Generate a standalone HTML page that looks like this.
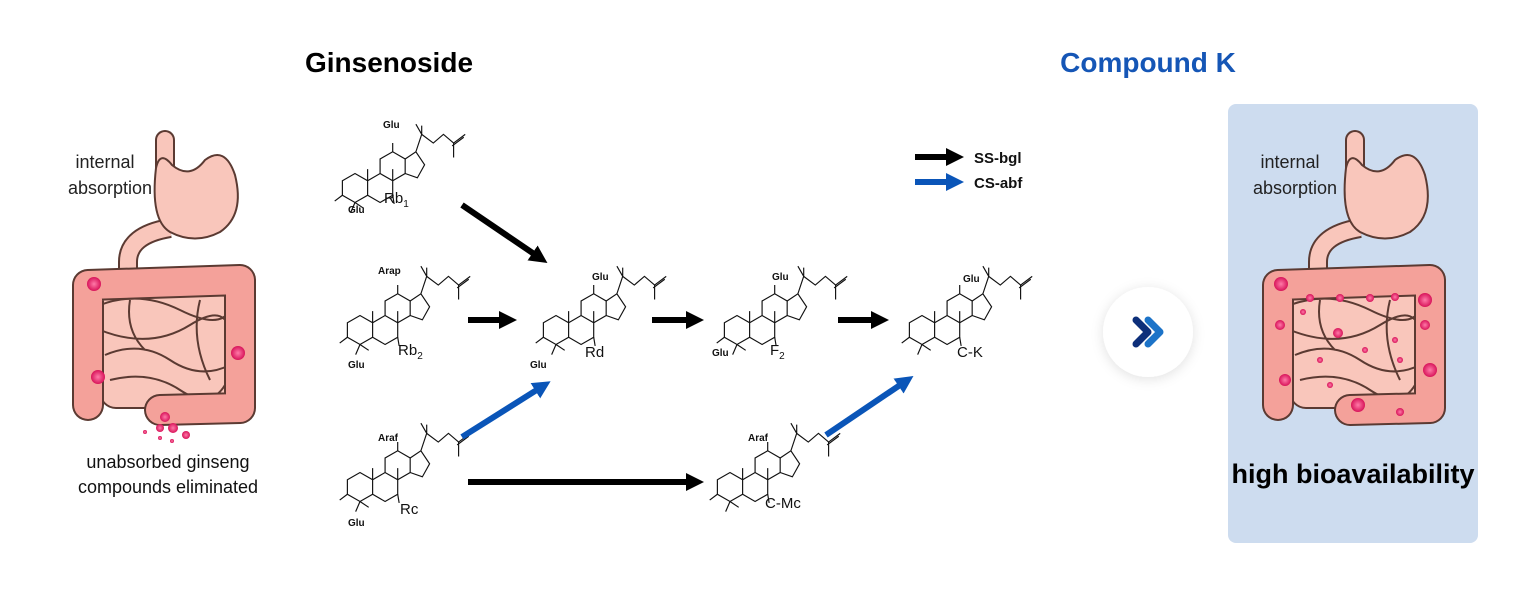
<!DOCTYPE html>
<html><head><style>
body{margin:0;background:#fff;}
svg{display:block;font-family:"Liberation Sans",sans-serif;}
</style></head><body>
<svg width="1520" height="590" viewBox="0 0 1520 590">
<defs>
<filter id="sh" x="-50%" y="-50%" width="200%" height="200%"><feDropShadow dx="0" dy="2" stdDeviation="6" flood-color="#000" flood-opacity="0.12"/></filter>
<marker id="hb" viewBox="0 0 10 10" refX="5" refY="5" markerWidth="3" markerHeight="3" orient="auto"><path d="M0,0 L10,5 L0,10z" fill="#000"/></marker>
<marker id="hl" viewBox="0 0 10 10" refX="5" refY="5" markerWidth="3" markerHeight="3" orient="auto"><path d="M0,0 L10,5 L0,10z" fill="#0a55b8"/></marker>
<g id="mol" fill="none" stroke="#111" stroke-width="0.8">
<path d="M-8.7,-5 L0,-10 L8.7,-5 L8.7,5 L0,10 L-8.7,5Z"/>
<path d="M8.7,-5 L17.3,-10 L26,-5 L26,5 L17.3,10 L8.7,5"/>
<path d="M17.3,-10 L17.3,-20 L26,-25 L34.6,-20 L34.6,-10 L26,-5"/>
<path d="M34.6,-20 L42,-25 L48,-16 L43,-7 L34.6,-10"/>
<path d="M42,-25 L46,-37 L54,-31 L61,-37 L68,-31 L76,-37 M67,-29 L75,-35 M68,-31 L68,-21"/>
<path d="M46,-37 L42,-44 M46,-37 L46,-43 M26,-25 L26,-31 M8.7,-5 L8.7,-13 M26,-5 L26,-13 M26,5 L27,11 M0,10 L-3,17 M0,10 L6,14 M-8.7,5 L-14,9"/>
</g>
<g id="gut">
<path d="M165,140 L165,172" fill="none" stroke="#5b3a32" stroke-width="20" stroke-linecap="round"/>
<path d="M165,140 L165,172" fill="none" stroke="#f9c6bb" stroke-width="16" stroke-linecap="round"/>
<path d="M170,228 Q128,235 128,262 L128,290" fill="none" stroke="#5b3a32" stroke-width="20"/>
<path d="M170,228 Q128,235 128,262 L128,292" fill="none" stroke="#f9c6bb" stroke-width="16"/>
<path d="M156,168 Q160,150 172,165 Q190,180 205,160 Q225,145 235,175 Q245,215 220,232 Q195,245 170,232 Q150,220 156,168Z" fill="#f9c6bb" stroke="#5b3a32" stroke-width="2"/>
<rect x="100" y="290" width="130" height="118" rx="16" fill="#f9c6bb" stroke="#5b3a32" stroke-width="2"/>
<path d="M100,305 Q140,290 180,310 T230,310 M100,330 Q150,350 190,325 T230,340 M105,355 Q140,340 170,360 T230,365 M110,380 Q150,370 180,390 T225,385 M130,300 Q125,330 145,350 M200,300 Q190,340 210,380" fill="none" stroke="#5b3a32" stroke-width="2"/>
<path d="M88,405 L88,285 L240,280 L240,408 L160,410" fill="none" stroke="#5b3a32" stroke-width="32" stroke-linejoin="round" stroke-linecap="round"/>
<path d="M88,405 L88,285 L240,280 L240,408 L160,410" fill="none" stroke="#f4a19a" stroke-width="28" stroke-linejoin="round" stroke-linecap="round"/>
</g>
<radialGradient id="dot"><stop offset="0" stop-color="#ff7aa8"/><stop offset="1" stop-color="#d8145a"/></radialGradient>
</defs>

<text x="389" y="72" font-size="28" font-weight="bold" text-anchor="middle" fill="#000">Ginsenoside</text>
<text x="1148" y="72" font-size="28" font-weight="bold" text-anchor="middle" fill="#1556b6">Compound K</text>

<use href="#gut" x="0" y="0"/>
<g fill="url(#dot)">
<circle cx="94" cy="284" r="7"/><circle cx="238" cy="353" r="7"/><circle cx="98" cy="377" r="7"/>
<circle cx="165" cy="417" r="5"/><circle cx="160" cy="428" r="4"/><circle cx="173" cy="428" r="5"/><circle cx="186" cy="435" r="4"/><circle cx="145" cy="432" r="2"/><circle cx="160" cy="438" r="2"/><circle cx="172" cy="441" r="2"/>
</g>
<text x="105" y="168" font-size="18" text-anchor="middle" fill="#222">internal</text>
<text x="110" y="194" font-size="18" text-anchor="middle" fill="#222">absorption</text>
<text x="168" y="468" font-size="18" text-anchor="middle" fill="#111">unabsorbed ginseng</text>
<text x="168" y="493" font-size="18" text-anchor="middle" fill="#111">compounds eliminated</text>

<g transform="translate(355,188) scale(1.45)"><use href="#mol"/></g>
<g transform="translate(360,330) scale(1.45)"><use href="#mol"/></g>
<g transform="translate(360,487) scale(1.45)"><use href="#mol"/></g>
<g transform="translate(556,330) scale(1.45)"><use href="#mol"/></g>
<g transform="translate(737,330) scale(1.45)"><use href="#mol"/></g>
<g transform="translate(922,330) scale(1.45)"><use href="#mol"/></g>
<g transform="translate(730,487) scale(1.45)"><use href="#mol"/></g>
<g font-size="10" font-weight="bold" fill="#111">
<text x="383" y="128">Glu</text><text x="348" y="213">Glu</text>
<text x="378" y="274">Arap</text><text x="348" y="368">Glu</text>
<text x="378" y="441">Araf</text><text x="348" y="526">Glu</text>
<text x="592" y="280">Glu</text><text x="530" y="368">Glu</text>
<text x="772" y="280">Glu</text><text x="712" y="356">Glu</text>
<text x="963" y="282">Glu</text>
<text x="748" y="441">Araf</text>
</g>
<g font-size="15" fill="#111">
<text x="384" y="203">Rb<tspan font-size="10" dy="4">1</tspan></text>
<text x="398" y="355">Rb<tspan font-size="10" dy="4">2</tspan></text>
<text x="400" y="514">Rc</text>
<text x="585" y="357">Rd</text>
<text x="770" y="355">F<tspan font-size="10" dy="4">2</tspan></text>
<text x="957" y="357">C-K</text>
<text x="765" y="508">C-Mc</text>
</g>

<g stroke-width="6" fill="none">
<line x1="462" y1="205" x2="540" y2="258" stroke="#000" marker-end="url(#hb)"/>
<line x1="468" y1="320" x2="508" y2="320" stroke="#000" marker-end="url(#hb)"/>
<line x1="462" y1="437" x2="543" y2="386" stroke="#0a55b8" marker-end="url(#hl)"/>
<line x1="652" y1="320" x2="695" y2="320" stroke="#000" marker-end="url(#hb)"/>
<line x1="838" y1="320" x2="880" y2="320" stroke="#000" marker-end="url(#hb)"/>
<line x1="468" y1="482" x2="695" y2="482" stroke="#000" marker-end="url(#hb)"/>
<line x1="826" y1="435" x2="906" y2="381" stroke="#0a55b8" marker-end="url(#hl)"/>
<line x1="915" y1="157" x2="955" y2="157" stroke="#000" marker-end="url(#hb)"/>
<line x1="915" y1="182" x2="955" y2="182" stroke="#0a55b8" marker-end="url(#hl)"/>
</g>
<text x="974" y="163" font-size="15" font-weight="bold" fill="#111">SS-bgl</text>
<text x="974" y="188" font-size="15" font-weight="bold" fill="#111">CS-abf</text>

<circle cx="1148" cy="332" r="45" fill="#fff" filter="url(#sh)"/>
<path d="M1136,320 L1148,332 L1136,344" fill="none" stroke="#0d2f7a" stroke-width="7" stroke-linecap="round" stroke-linejoin="round"/>
<path d="M1148,320 L1160,332 L1148,344" fill="none" stroke="#1c73c8" stroke-width="7" stroke-linecap="round" stroke-linejoin="round"/>

<rect x="1228" y="104" width="250" height="439" rx="8" fill="#cddcef"/>
<use href="#gut" x="1190" y="0"/>
<g fill="url(#dot)">
<circle cx="1281" cy="284" r="7"/><circle cx="1425" cy="300" r="7"/><circle cx="1280" cy="325" r="5"/><circle cx="1425" cy="325" r="5"/><circle cx="1285" cy="380" r="6"/><circle cx="1430" cy="370" r="7"/><circle cx="1358" cy="405" r="7"/><circle cx="1400" cy="412" r="4"/>
<circle cx="1310" cy="298" r="4"/><circle cx="1340" cy="298" r="4"/><circle cx="1370" cy="298" r="4"/><circle cx="1395" cy="297" r="4"/><circle cx="1303" cy="312" r="3"/><circle cx="1338" cy="333" r="5"/><circle cx="1365" cy="350" r="3"/><circle cx="1395" cy="340" r="3"/><circle cx="1320" cy="360" r="3"/><circle cx="1400" cy="360" r="3"/><circle cx="1330" cy="385" r="3"/>
</g>
<text x="1290" y="168" font-size="18" text-anchor="middle" fill="#222">internal</text>
<text x="1295" y="194" font-size="18" text-anchor="middle" fill="#222">absorption</text>
<text x="1353" y="483" font-size="27" font-weight="bold" text-anchor="middle" fill="#000">high bioavailability</text>
</svg>
</body></html>
